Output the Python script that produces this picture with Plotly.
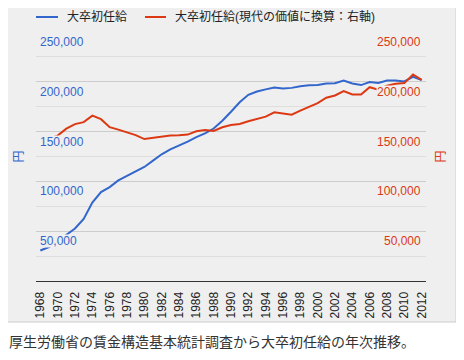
import plotly.graph_objects as go

years = list(range(1968, 2013))
nominal = [30600, 34100, 39900, 46400, 52700, 62300, 78700, 89300, 94300, 101000,
           105500, 109500, 114500, 120800, 127200, 132200, 135800, 140000, 144500, 148200,
           153100, 160900, 169900, 179400, 186900, 190300, 192400, 194200, 193200, 193900,
           195500, 196600, 196900, 198300, 198500, 201300, 198300, 196700, 199800, 198800,
           201300, 201400, 200300, 205000, 201800]
real = [139500, 143000, 146000, 153000, 157500, 159500, 166000, 162500, 154500, 152000,
        149500, 146500, 142500, 143800, 144500, 146000, 146300, 147000, 150300, 151700,
        150700, 154300, 156700, 157700, 160400, 162800, 165000, 169400, 168300, 167000,
        171000, 175000, 178500, 184000, 186300, 190600, 187300, 187300, 194600, 192000,
        196000, 198000, 198700, 207400, 202000]
year_ticks = list(range(1968, 2013, 2))
y_ticks = [50000, 100000, 150000, 200000, 250000]
y_tick_text = ["50,000", "100,000", "150,000", "200,000", "250,000"]
name_nominal = "大卒初任給"
name_real = "大卒初任給(現代の価値に換算：右軸)"
caption = "厚生労働省の賃金構造基本統計調査から大卒初任給の年次推移。"

BLUE = "#3366cc"
RED = "#dc3912"
PANEL = "#efefef"
FONT = "Liberation Sans, Arial, Noto Sans CJK JP, sans-serif"

fig = go.Figure()
fig.add_trace(go.Scatter(x=years, y=nominal, mode="lines", name=name_nominal,
                         line=dict(color=BLUE, width=2), yaxis="y"))
fig.add_trace(go.Scatter(x=years, y=real, mode="lines", name=name_real,
                         line=dict(color=RED, width=2), yaxis="y2"))

# the page body has an 8px margin, so the figure is drawn 8px smaller
W, H = 456, 352
L, R, T, B = 28, 38, 24, 79
pw = W - L - R
ph = H - T - B

def px(X):
    return (X - L) / pw

def py(Y):
    return (H - B - Y) / ph

PANEL_R, PANEL_B = 448, 314

# white areas outside the grey panel (paper itself is the panel colour)
fig.add_shape(type="rect", xref="paper", yref="paper",
              x0=px(0), x1=px(W), y0=py(H), y1=py(PANEL_B),
              fillcolor="white", line=dict(width=0), layer="below")
fig.add_shape(type="rect", xref="paper", yref="paper",
              x0=px(PANEL_R), x1=px(W), y0=py(H), y1=py(0),
              fillcolor="white", line=dict(width=0), layer="below")
# panel border
fig.add_shape(type="line", xref="paper", yref="paper",
              x0=px(0), x1=px(PANEL_R), y0=py(PANEL_B), y1=py(PANEL_B),
              line=dict(color="#cccccc", width=1))
fig.add_shape(type="line", xref="paper", yref="paper",
              x0=px(PANEL_R), x1=px(PANEL_R), y0=py(0), y1=py(PANEL_B),
              line=dict(color="#cccccc", width=1))

# legend (drawn manually for exact placement)
legend_items = [(name_nominal, BLUE, 28, 50, 57), (name_real, RED, 137, 158, 165)]
for text, col, x0, x1, xt in legend_items:
    fig.add_shape(type="line", xref="paper", yref="paper",
                  x0=px(x0), x1=px(x1), y0=py(9), y1=py(9),
                  line=dict(color=col, width=2))
    fig.add_annotation(text=text, xref="paper", yref="paper", x=px(xt), y=py(9),
                       xanchor="left", yanchor="middle", showarrow=False,
                       font=dict(size=12, color="#222222", family=FONT))

# inside tick labels for both value axes (placed on the axes' own scales)
for v, t in zip(y_ticks, y_tick_text):
    fig.add_annotation(text=t, xref="paper", yref="y", x=px(31), y=v,
                       xanchor="left", yanchor="middle", yshift=-10, showarrow=False,
                       bgcolor=PANEL, borderpad=0, height=12, valign="middle",
                       font=dict(size=12, color=BLUE, family=FONT))
    fig.add_annotation(text=t, xref="paper", yref="y2", x=px(414), y=v,
                       xanchor="right", yanchor="middle", yshift=-10, showarrow=False,
                       bgcolor=PANEL, borderpad=0, height=12, valign="middle",
                       font=dict(size=12, color=RED, family=FONT))

fig.add_annotation(text=caption, xref="paper", yref="paper", x=px(-1), y=py(334),
                   xanchor="left", yanchor="middle", showarrow=False,
                   font=dict(size=14, color="#333333", family=FONT))

fig.update_layout(
    width=W, height=H,
    margin=dict(l=L, r=R, t=T, b=B, autoexpand=False),
    paper_bgcolor=PANEL,
    plot_bgcolor=PANEL,
    font=dict(family=FONT, size=12, color="#222222"),
    showlegend=False,
    xaxis=dict(range=[1967.5, 2012.5], tickmode="array", tickvals=year_ticks,
               ticktext=[str(y) for y in year_ticks], tickangle=-90,
               showgrid=False, zeroline=False, showline=True, linecolor="#333333",
               linewidth=1, ticks="", tickfont=dict(size=12, color="#222222"),
               ticklabelstandoff=5),
    yaxis=dict(range=[0, 250000], tickmode="array", tickvals=y_ticks,
               showticklabels=False, ticks="",
               showgrid=True, gridcolor="#cccccc", gridwidth=1, zeroline=False,
               minor=dict(tickmode="linear", tick0=0, dtick=25000, showgrid=True,
                          gridcolor="#dedede", gridwidth=1),
               title=dict(text="円", font=dict(size=12, color=BLUE), standoff=8)),
    yaxis2=dict(range=[0, 250000], overlaying="y", side="right", tickmode="array",
                tickvals=y_ticks, showticklabels=False, ticks="",
                showgrid=False, zeroline=False,
                title=dict(text="円", font=dict(size=12, color=RED), standoff=10)),
)

fig.write_html("out.html")
